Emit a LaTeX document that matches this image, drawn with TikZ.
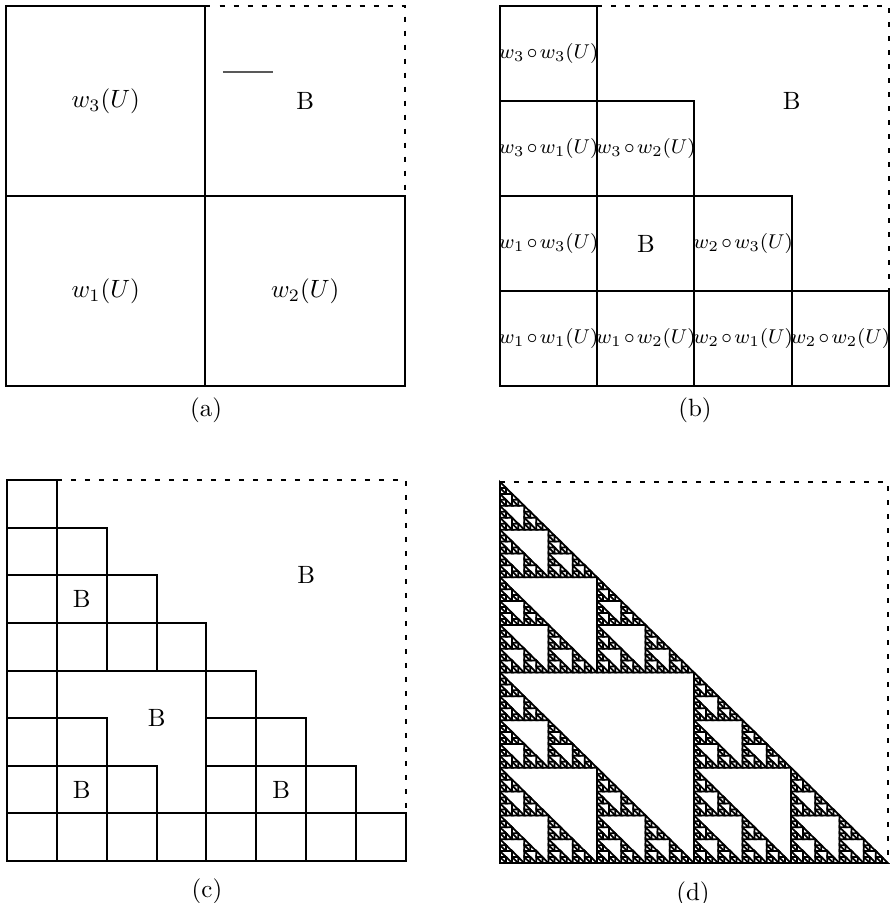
\documentclass[tikz,border=0pt]{standalone}

\tikzset{
  cellline/.style={line width=0.8pt},
  triline/.style={line width=0.7pt},
  openedge/.style={line width=0.7pt, dash pattern=on 2pt off 3.6pt},
  complabel/.style={font={\footnotesize\medmuskip=2mu}, inner sep=0pt},
}

% one cell of each kind, in the unit square
\newcommand\boxcell{\draw[cellline] (0,0) rectangle (1,1);}
\newcommand\tricell{\draw[triline] (0,0) -- (1,0) -- (0,1) -- cycle;}

% apply w1, w2, w3 #1 times to the cell #2
\newcommand\ifsgen[2]{%
  \ifnum#1=0 #2\else
    \begin{scope}[scale=0.5]\ifsgen{\numexpr#1-1\relax}{#2}\end{scope}%
    \begin{scope}[shift={(0.5,0)},scale=0.5]\ifsgen{\numexpr#1-1\relax}{#2}\end{scope}%
    \begin{scope}[shift={(0,0.5)},scale=0.5]\ifsgen{\numexpr#1-1\relax}{#2}\end{scope}%
  \fi}

\begin{document}
\begin{tikzpicture}[x=0.4pt, y=0.4pt]
  \useasboundingbox (0,0) rectangle (890,903);

  % (a) first step
  \begin{scope}[shift={(6,517)}, xscale=399, yscale=380]
    \ifsgen{1}{\boxcell}
    \draw[openedge] (0.5,1) -- (1,1) -- (1,0.5);
    \node (a1) at (0.25,0.25) {$w_1(U)$};
    \node (a2) at (0.75,0.25) {$w_2(U)$};
    \node (a3) at (0.25,0.75) {$w_3(U)$};
    \node (aB) at (0.75,0.75) {B};
  \end{scope}
  \draw[black!65, line width=0.6pt] (223,831) -- (273,831);
  \node (capa) at (206,493) {(a)};

  % (b) second step
  \begin{scope}[shift={(500,517)}, xscale=389, yscale=380]
    \ifsgen{2}{\boxcell}
    \draw[openedge] (0.25,1) -- (1,1) -- (1,0.25);
    \node[complabel] (b11) at (0.125,0.125) {$w_1\circ w_1(U)$};
    \node[complabel] (b12) at (0.375,0.125) {$w_1\circ w_2(U)$};
    \node[complabel] (b21) at (0.625,0.125) {$w_2\circ w_1(U)$};
    \node[complabel] (b22) at (0.875,0.125) {$w_2\circ w_2(U)$};
    \node[complabel] (b13) at (0.125,0.375) {$w_1\circ w_3(U)$};
    \node (bB1) at (0.375,0.375) {B};
    \node[complabel] (b23) at (0.625,0.375) {$w_2\circ w_3(U)$};
    \node[complabel] (b31) at (0.125,0.625) {$w_3\circ w_1(U)$};
    \node[complabel] (b32) at (0.375,0.625) {$w_3\circ w_2(U)$};
    \node[complabel] (b33) at (0.125,0.875) {$w_3\circ w_3(U)$};
    \node (bB) at (0.75,0.75) {B};
  \end{scope}
  \node (capb) at (695,493) {(b)};

  % (c) third step
  \begin{scope}[shift={(7,42)}, xscale=399, yscale=381]
    \ifsgen{3}{\boxcell}
    \draw[openedge] (0.125,1) -- (1,1) -- (1,0.125);
    \node (cB1) at (0.1875,0.1875) {B};
    \node (cB2) at (0.6875,0.1875) {B};
    \node (cB3) at (0.1875,0.6875) {B};
    \node (cB4) at (0.375,0.375) {B};
    \node (cB) at (0.75,0.75) {B};
  \end{scope}
  \node (capc) at (207,12) {(c)};

  % (d) the attractor
  \begin{scope}[shift={(500,40)}, xscale=388, yscale=381]
    \ifsgen{6}{\tricell}
    \draw[openedge] (0,1) -- (1,1) -- (1,0);
  \end{scope}
  \node (capd) at (693,9) {(d)};
\end{tikzpicture}
\end{document}
